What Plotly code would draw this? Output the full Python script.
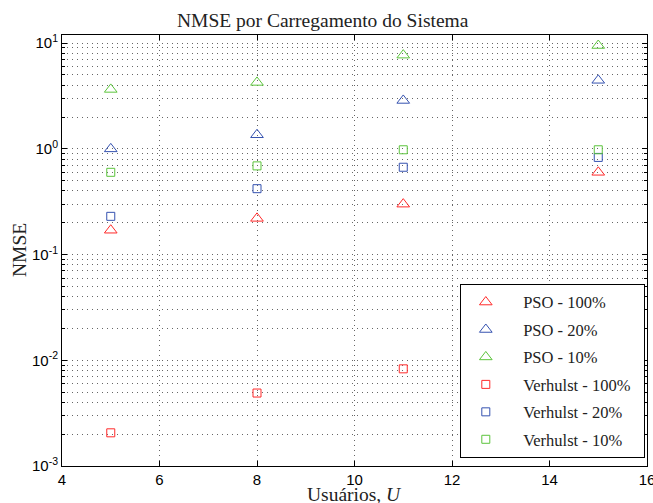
import plotly.graph_objects as go

usuarios = [5, 8, 11, 15]
usuarios_v100 = [5, 8, 11]

pso_100 = [0.17, 0.22, 0.30, 0.60]
pso_20 = [1.0, 1.36, 2.87, 4.45]
pso_10 = [3.65, 4.25, 7.7, 9.5]
verhulst_100 = [0.00206, 0.0049, 0.0083]
verhulst_20 = [0.23, 0.42, 0.67, 0.83]
verhulst_10 = [0.60, 0.69, 0.98, 0.98]

x_ticks = [4, 6, 8, 10, 12, 14, 16]
y_tick_vals = [0.001, 0.01, 0.1, 1, 10]
y_tick_text = ["10<sup>-3</sup>", "10<sup>-2</sup>", "10<sup>-1</sup>", "10<sup>0</sup>", "10<sup>1</sup>"]

RED = "#ff2a2a"
BLUE = "#3552b0"
GREEN = "#5cc43c"

series = [
    ("PSO - 100%", usuarios, pso_100, "triangle-up-open", RED, 11),
    ("PSO - 20%", usuarios, pso_20, "triangle-up-open", BLUE, 11),
    ("PSO - 10%", usuarios, pso_10, "triangle-up-open", GREEN, 11),
    ("Verhulst - 100%", usuarios_v100, verhulst_100, "square-open", RED, 8),
    ("Verhulst - 20%", usuarios, verhulst_20, "square-open", BLUE, 8),
    ("Verhulst - 10%", usuarios, verhulst_10, "square-open", GREEN, 8),
]

fig = go.Figure()
for i, (name, xs, ys, sym, col, sz) in enumerate(series):
    fig.add_trace(go.Scatter(
        x=xs, y=ys, mode="markers", name="\u00a0\u00a0\u00a0" + name + "\u00a0\u00a0",
        legendgroup="g%d" % i,
        marker=dict(symbol=sym, color=col, size=sz, line=dict(width=1, color=col)),
    ))

SERIF = "Liberation Serif, DejaVu Serif, serif"
SANS = "Liberation Sans, Arial, sans-serif"

fig.update_layout(
    width=653, height=503,
    margin=dict(l=62, r=6, t=35, b=37, autoexpand=False),
    paper_bgcolor="white", plot_bgcolor="white",
    showlegend=True,
    legend=dict(
        x=0.680, y=0.019, xanchor="left", yanchor="bottom",
        bgcolor="white", bordercolor="black", borderwidth=1,
        font=dict(family=SERIF, size=16.5, color="#222"),
        itemwidth=40, tracegroupgap=3,
    ),
    annotations=[
        dict(text="NMSE por Carregamento do Sistema", xref="paper", yref="paper",
             x=0.446, y=1.0, xanchor="center", yanchor="bottom", yshift=2, showarrow=False,
             font=dict(family=SERIF, size=19.5, color="#222")),
        dict(text="Usuários, <i>U</i>", xref="paper", yref="paper",
             x=0.5, y=0, xanchor="center", yanchor="top", yshift=-16, showarrow=False,
             font=dict(family=SERIF, size=19.5, color="#222")),
        dict(text="NMSE", xref="paper", yref="paper", textangle=-90,
             x=0, y=0.5, xanchor="right", yanchor="middle", xshift=-30, showarrow=False,
             font=dict(family=SERIF, size=19.5, color="#222")),
    ],
)

fig.update_xaxes(
    range=[4, 16], tickvals=x_ticks, ticktext=[str(v) for v in x_ticks],
    ticklabeloverflow="allow", automargin=False,
    showline=True, linecolor="black", linewidth=1, mirror="ticks",
    ticks="inside", ticklen=5, tickcolor="black",
    showgrid=True, zeroline=False,
    tickfont=dict(family=SANS, size=15, color="black"),
    gridcolor="#666", griddash="1px,4px", gridwidth=1,
)
fig.update_yaxes(
    type="log", range=[-3, 1.077], tickvals=y_tick_vals, ticktext=y_tick_text,
    ticklabeloverflow="allow", automargin=False,
    showline=True, linecolor="black", linewidth=1, mirror="ticks",
    ticks="inside", ticklen=5, tickcolor="black",
    showgrid=True, zeroline=False,
    tickfont=dict(family=SANS, size=15, color="black"),
    gridcolor="#666", griddash="1px,4px", gridwidth=1,
    minor=dict(ticks="inside", ticklen=3, tickcolor="black", showgrid=True,
               tickvals=[m * 10 ** e for e in range(-3, 2) for m in range(2, 10)],
               gridcolor="#666", griddash="1px,4px", gridwidth=1),
)

fig.write_html("out.html")
